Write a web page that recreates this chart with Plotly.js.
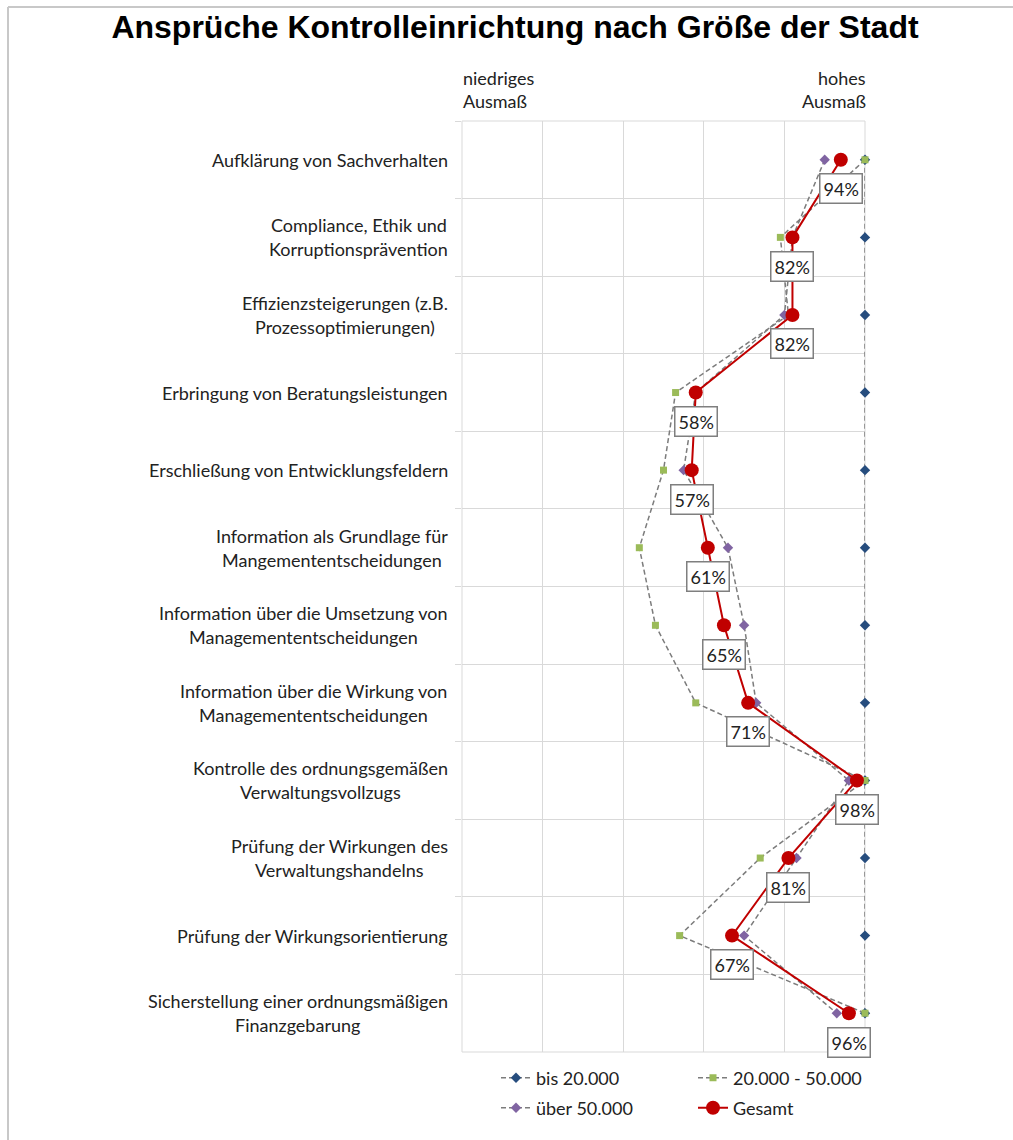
<!DOCTYPE html>
<html>
<head>
<meta charset="utf-8">
<script src="https://cdn.plot.ly/plotly-3.0.1.min.js"></script>
<style>html,body{margin:0;padding:0;background:#fff;}#chart{width:1013px;height:1140px;}</style>
</head>
<body>
<div id="chart"></div>
<script>
// ---- data ----
const categories = [
  "Aufklärung von Sachverhalten",
  "Compliance, Ethik und<br>Korruptionsprävention",
  "Effizienzsteigerungen (z.B.<br>Prozessoptimierungen)",
  "Erbringung von Beratungsleistungen",
  "Erschließung von Entwicklungsfeldern",
  "Information als Grundlage für<br>Mangemententscheidungen",
  "Information über die Umsetzung von<br>Managemententscheidungen",
  "Information über die Wirkung von<br>Managemententscheidungen",
  "Kontrolle des ordnungsgemäßen<br>Verwaltungsvollzugs",
  "Prüfung der Wirkungen des<br>Verwaltungshandelns",
  "Prüfung der Wirkungsorientierung",
  "Sicherstellung einer ordnungsmäßigen<br>Finanzgebarung"
];
const seriesNames = ["bis 20.000", "20.000 - 50.000", "über 50.000", "Gesamt"];
const bis20000   = [100, 100, 100, 100, 100, 100, 100, 100, 100, 100, 100, 100];
const von20bis50 = [100, 79, 81, 53, 50, 44, 48, 58, 100, 74, 54, 100];
const ueber50000 = [90, 82, 80, 58, 55, 66, 70, 73, 96, 83, 70, 93];
const gesamt     = [94, 82, 82, 58, 57, 61, 65, 71, 98, 81, 67, 96];
const axisEndLabels = ["niedriges<br>Ausmaß", "hohes<br>Ausmaß"];
const titleText = "Ansprüche Kontrolleinrichtung nach Größe der Stadt";

// ---- geometry ----
const W = 1013, H = 1140;
const M = {l: 462, r: 148, t: 121, b: 88};
const PW = W - M.l - M.r, PH = H - M.t - M.b;
const px2x = p => (p - M.l) / PW;
const py2y = p => (H - M.b - p) / PH;

const FONT = "Lato, 'Open Sans', sans-serif";
const FS = 18;
const TXT = "#222222";
const GRID = "#d9d9d9";
const DASHC = "#7c7c7c";

const cv = document.createElement("canvas").getContext("2d");
cv.font = FS + "px Lato";
const measure = s => cv.measureText(s).width;

const dashLine = {color: DASHC, width: 1.5, dash: "5px,3px"};

const traces = [
  {name: seriesNames[0], x: bis20000, y: categories, type: "scatter", mode: "lines+markers",
   line: dashLine, marker: {symbol: "diamond", size: 8, color: "#264d7e"}, cliponaxis: false, legend: "legend"},
  {name: seriesNames[1], x: von20bis50, y: categories, type: "scatter", mode: "lines+markers",
   line: dashLine, marker: {symbol: "square", size: 7, color: "#9bbb59"}, cliponaxis: false, legend: "legend"},
  {name: seriesNames[2], x: ueber50000, y: categories, type: "scatter", mode: "lines+markers",
   line: dashLine, marker: {symbol: "diamond", size: 8, color: "#8064a2"}, cliponaxis: false, legend: "legend2"},
  {name: seriesNames[3], x: gesamt, y: categories, type: "scatter", mode: "lines+markers",
   line: {color: "#c00000", width: 2}, marker: {symbol: "circle", size: 14, color: "#c00000"}, cliponaxis: false, legend: "legend2"}
];

const annotations = [];
// value labels for Gesamt
gesamt.forEach((v, i) => {
  annotations.push({x: v, y: categories[i], xref: "x", yref: "y", text: v + "%", showarrow: false,
    yshift: -29, bgcolor: "#ffffff", bordercolor: "#7f7f7f", borderwidth: 1.5, borderpad: 3,
    font: {family: FONT, size: FS, color: TXT}});
});
// category labels (centered lines, right edge at 448px)
const LINE = 24;
categories.forEach(c => {
  const lines = c.split("<br>");
  const wmax = Math.max(...lines.map(measure));
  const cx = 448 - wmax / 2;
  lines.forEach((ln, i) => {
    annotations.push({x: px2x(cx), xref: "paper", y: c, yref: "y", text: ln, showarrow: false,
      xanchor: "center", yanchor: "middle", yshift: ((lines.length - 1) / 2 - i) * LINE,
      font: {family: FONT, size: FS, color: TXT}});
  });
});
// axis end labels
axisEndLabels.forEach((t, k) => {
  t.split("<br>").forEach((ln, i) => {
    annotations.push({x: k === 0 ? px2x(461) : px2x(868), xref: "paper", y: py2y(78 + i * 23), yref: "paper",
      text: ln, showarrow: false, xanchor: k === 0 ? "left" : "right", yanchor: "middle",
      font: {family: FONT, size: FS, color: TXT}});
  });
});

const frameX0 = px2x(8), frameY0 = py2y(7);
const legendCommon = {orientation: "h", x: px2x(496), xanchor: "left", yanchor: "middle",
  entrywidth: 152, entrywidthmode: "pixels", font: {family: FONT, size: FS, color: TXT}, bgcolor: "rgba(0,0,0,0)"};
const layout = {
  width: W, height: H,
  margin: M,
  paper_bgcolor: "#ffffff", plot_bgcolor: "#ffffff",
  title: {text: titleText, x: 515 / W, xanchor: "center", y: 1 - 27 / H, yanchor: "middle",
          yref: "container", xref: "container",
          font: {family: "'Liberation Sans', Arial, sans-serif", size: 32, weight: "bold", color: "#000000"}},
  xaxis: {range: [0, 100], tickvals: [0, 20, 40, 60, 80, 100], showticklabels: false, showgrid: true,
          gridcolor: GRID, gridwidth: 1, zeroline: false, showline: false, ticks: "", fixedrange: true},
  yaxis: {type: "category", range: [categories.length - 0.5, -0.5], autorange: false, showticklabels: false,
          tickson: "boundaries", showgrid: true, gridcolor: GRID, gridwidth: 1, ticks: "outside", ticklen: 6,
          tickcolor: GRID, zeroline: false, showline: false},
  showlegend: true,
  legend: Object.assign({}, legendCommon, {y: py2y(1078)}),
  legend2: Object.assign({}, legendCommon, {y: py2y(1108)}),
  annotations: annotations,
  shapes: [
    {type: "line", xref: "paper", yref: "paper", x0: frameX0, x1: frameX0, y0: py2y(H + 10), y1: frameY0,
     line: {color: "#c8c8c8", width: 2}},
    {type: "line", xref: "paper", yref: "paper", x0: frameX0, x1: px2x(W + 10), y0: frameY0, y1: frameY0,
     line: {color: "#c8c8c8", width: 2}},
    {type: "line", xref: "paper", yref: "paper", x0: 0, x1: 1, y0: 0, y1: 0, line: {color: GRID, width: 1}, layer: "below"},
    {type: "line", xref: "paper", yref: "paper", x0: 0, x1: 1, y0: 1, y1: 1, line: {color: GRID, width: 1}, layer: "below"},
    {type: "line", xref: "paper", yref: "paper", x0: 1, x1: 1, y0: 0, y1: 1, line: {color: GRID, width: 1}, layer: "below"},
    {type: "line", xref: "paper", yref: "paper", x0: 0, x1: 0, y0: 0, y1: 1, line: {color: GRID, width: 1}, layer: "below"}
  ]
};

Plotly.newPlot("chart", traces, layout, {displayModeBar: false, staticPlot: true});
</script>
</body>
</html>
